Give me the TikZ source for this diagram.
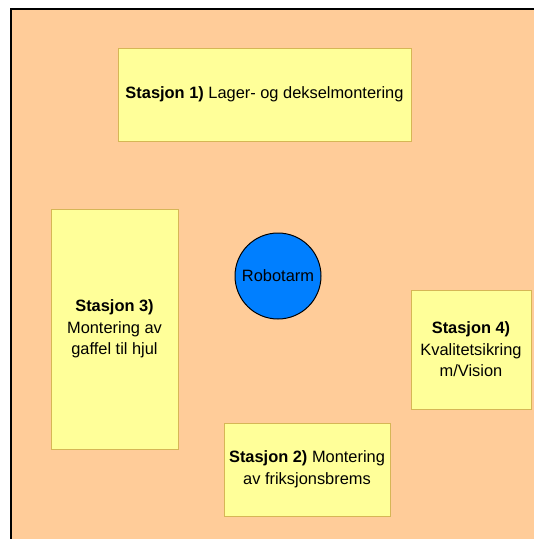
\documentclass[tikz,border=0pt]{standalone}
\usepackage{fontspec}
\setmainfont{Liberation Sans}
\usepackage{tikz}
\usetikzlibrary{positioning}
\definecolor{floor}{RGB}{255,204,153}
\definecolor{padfill}{RGB}{255,255,153}
\definecolor{padline}{RGB}{214,182,86}
\definecolor{armblue}{RGB}{0,127,255}

\begin{document}
\begin{tikzpicture}[x=1pt,y=-1pt,
    station/.style={rectangle,fill=padfill,draw=padline,line width=1pt,
        align=center,inner sep=0pt,font=\fontsize{16.4}{21.5}\selectfont},
    arm/.style={circle,fill=armblue,draw=black,line width=1pt,
        minimum size=86pt,inner sep=0pt,font=\fontsize{16.4}{21.5}\selectfont}]
    \useasboundingbox (0,0) rectangle (534,539);
    % cell floor, edged on the left and top only
    \fill[floor] (11,9) rectangle (534,539);
    \draw[line width=1.5pt] (11,539) -- (11,9) -- (534,9);
    % robot in the middle
    \node[arm] (robot) at (278,276) {Robotarm};
    % work stations round the robot
    \node[station,minimum width=293pt,minimum height=93pt] (st1) at (264.5,94.5)
        {\textbf{Stasjon 1)} Lager- og dekselmontering};
    \node[station,minimum width=166pt,minimum height=93pt] (st2) at (307,469.5)
        {\textbf{Stasjon 2)} Montering\\av friksjonsbrems};
    \node[station,minimum width=127pt,minimum height=240pt] (st3) at (114.5,329)
        {\textbf{Stasjon 3)}\\Montering av\\gaffel til hjul};
    \node[station,minimum width=120pt,minimum height=119pt] (st4) at (471,349.5)
        {\textbf{Stasjon 4)}\\Kvalitetsikring\\m/Vision};
\end{tikzpicture}
\end{document}
